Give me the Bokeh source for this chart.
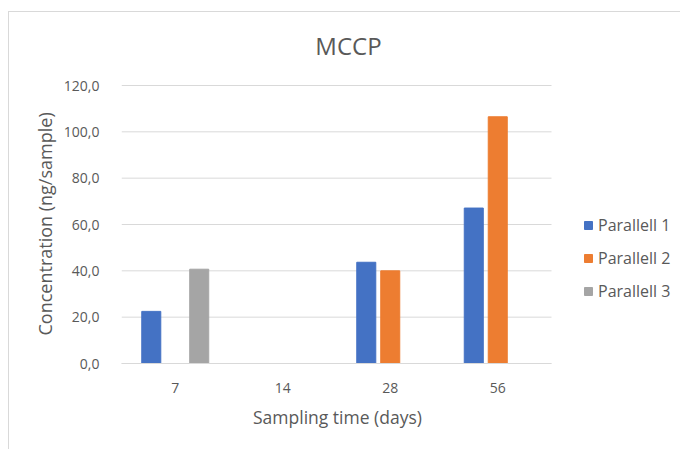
import math
from bokeh.plotting import figure
from bokeh.layouts import column
from bokeh.models import (ColumnDataSource, Legend, LegendItem, Label, Title,
                          CustomJSTickFormatter, FixedTicker, Range1d)
from bokeh.embed import file_html
from bokeh.resources import INLINE

days = ["7", "14", "28", "56"]
parallell_1 = [22.5, float("nan"), 43.7, 67.1]
parallell_2 = [float("nan"), float("nan"), 40.0, 106.5]
parallell_3 = [40.7, float("nan"), float("nan"), float("nan")]
series_names = ["Parallell 1", "Parallell 2", "Parallell 3"]
y_ticks = [0, 20, 40, 60, 80, 100, 120]

FONT = "Open Sans"
TXT = "#595959"
GRID = "#d9d9d9"
colors = ["#4472C4", "#ED7D31", "#A5A5A5"]

n = len(days)
idx = list(range(n))
src = ColumnDataSource(dict(idx=idx, p1=parallell_1, p2=parallell_2, p3=parallell_3))

# Figure sits at page (9, 12) inside a bordered wrapper.
# Frame spans page x 121..680, y 12..363; categories occupy x 121..551 and values 0..120 map to y 363..85.
px_per_cat = 107.5
frame_w = 671 - 112
px_per_unit = (363 - 85) / 120.0
x_end = -0.5 + frame_w / px_per_cat
y_end = (363 - 12) / px_per_unit

p = figure(x_range=Range1d(-0.5, x_end), y_range=Range1d(0, y_end), width=671, height=437,
           output_backend="svg", toolbar_location=None,
           min_border_left=112, min_border_right=0, min_border_top=0, min_border_bottom=86)
p.outline_line_color = None
p.background_fill_color = "white"
p.border_fill_color = "white"

# horizontal gridlines limited to the category area
p.segment(x0=-0.5, x1=n - 0.5, y0=y_ticks, y1=y_ticks, line_color=GRID, line_width=1)

renderers = []
for i, (col, off) in enumerate(zip(["p1", "p2", "p3"], [-0.223, 0.0, 0.223])):
    xs = [k + off for k in idx]
    s = ColumnDataSource(dict(x=xs, top=src.data[col]))
    r = p.vbar(x="x", top="top", width=0.177, source=s,
               fill_color=colors[i], line_color=colors[i])
    renderers.append(r)

p.xgrid.grid_line_color = None
p.ygrid.grid_line_color = None
p.yaxis.ticker = FixedTicker(ticks=y_ticks)
p.yaxis.formatter = CustomJSTickFormatter(code="return tick.toFixed(1).replace('.', ',');")
p.yaxis.bounds = (y_ticks[0], y_ticks[-1])
p.xaxis.ticker = FixedTicker(ticks=idx)
p.xaxis.major_label_overrides = {k: d for k, d in zip(idx, days)}
p.xaxis.bounds = (-0.5, n - 0.5)
for ax in (p.xaxis, p.yaxis):
    ax.major_tick_line_color = None
    ax.minor_tick_line_color = None
    ax.major_label_text_font = FONT
    ax.major_label_text_color = TXT
    ax.major_label_text_font_size = "14px"
p.yaxis.axis_line_color = None
p.xaxis.axis_line_color = GRID
p.yaxis.major_label_standoff = 16
p.xaxis.major_label_standoff = 13

# axis titles, placed over the category / value area rather than the whole frame
xlab = Title(text="Sampling time (days)", align="left", offset=131.5, standoff=14,
             text_font=FONT, text_font_size="17.5px", text_color=TXT, text_font_style="normal")
p.add_layout(xlab, "below")
ylab = Title(text="Concentration (ng/sample)", align="left", offset=28, standoff=7,
             text_font=FONT, text_font_size="18px", text_color=TXT, text_font_style="normal")
p.add_layout(ylab, "left")

legend = Legend(items=[LegendItem(label=nm, renderers=[r]) for nm, r in zip(series_names, renderers)],
                location=(462, 61), padding=0, margin=0, border_line_color=None,
                background_fill_alpha=0, glyph_width=10, glyph_height=10,
                label_height=22, spacing=11, label_standoff=5,
                label_text_font=FONT, label_text_color=TXT, label_text_font_size="16px")
p.add_layout(legend, "center")

title = Label(x=227, y=318, x_units="screen", y_units="screen", text="MCCP",
              text_font=FONT, text_font_size="24px", text_color=TXT,
              text_align="center", text_baseline="middle")
p.add_layout(title)

layout = column(p, styles={"border-left": "1px solid #d9d9d9", "border-top": "1px solid #d9d9d9",
                           "margin-left": "8px", "margin-top": "11px"})

open("out.html", "w").write(file_html(layout, INLINE))
